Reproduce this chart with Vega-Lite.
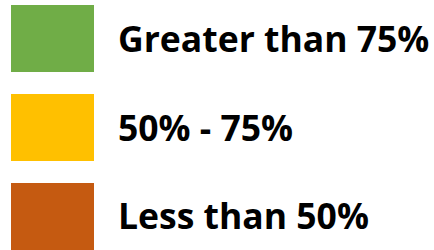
{
  "$schema": "https://vega.github.io/schema/vega-lite/v6.json",
  "width": 434,
  "height": 250,
  "autosize": {"type": "fit", "contains": "padding"},
  "padding": 0,
  "background": "white",
  "view": {"stroke": null},
  "data": {"values": [
    {"label": "Greater than 75%", "color": "g"},
    {"label": "50% - 75%", "color": "y"},
    {"label": "Less than 50%", "color": "o"}
  ]},
  "encoding": {
    "y": {"field": "label", "type": "nominal", "sort": null, "axis": null,
      "scale": {"range": [5, 250], "paddingInner": 0.247, "paddingOuter": 0}}
  },
  "layer": [
    {
      "mark": {"type": "bar", "x": 11, "x2": 94},
      "encoding": {
        "color": {"field": "color", "type": "nominal", "legend": null,
          "scale": {"domain": ["g", "y", "o"], "range": ["#70AD47", "#FFC000", "#C55A11"]}}
      }
    },
    {
      "mark": {"type": "text", "x": 118, "align": "left", "baseline": "middle", "font": "Open Sans", "fontWeight": "bold", "fontSize": 35.5, "color": "black", "dy": 2},
      "encoding": {"text": {"field": "label"}}
    }
  ]
}
